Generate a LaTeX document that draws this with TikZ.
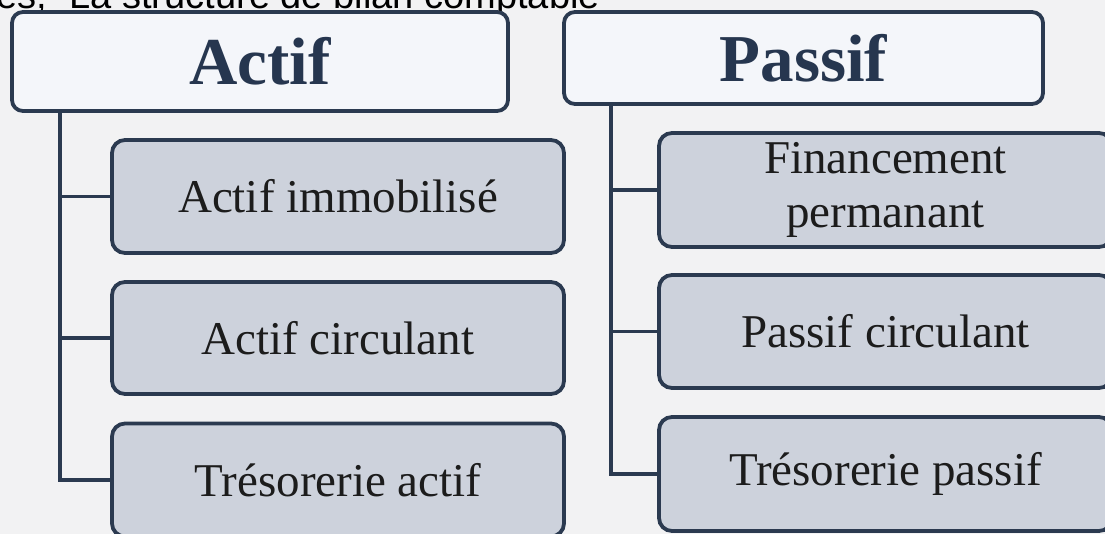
\documentclass[tikz,border=0pt]{standalone}
\usepackage{fontspec}
\setmainfont{Liberation Serif}
\newfontfamily\headsans{Liberation Sans}
\definecolor{bgcol}{HTML}{F2F2F3}
\definecolor{edgecol}{HTML}{2B3A50}
\definecolor{topfill}{HTML}{F4F6FA}
\definecolor{childfill}{HTML}{CDD2DC}
\definecolor{titlecol}{HTML}{26364F}
\definecolor{txtcol}{HTML}{1C1C1C}
\begin{document}
\begin{tikzpicture}[x=1pt,y=-1pt,
  headbox/.style={draw=edgecol, line width=3.8pt, fill=topfill, rounded corners=11pt,
    inner sep=0pt, text=titlecol, font=\bfseries\fontsize{67}{67}\selectfont},
  childbox/.style={draw=edgecol, line width=3.8pt, fill=childfill, rounded corners=13pt,
    inner sep=0pt, text=txtcol, align=center, font=\fontsize{47}{54}\selectfont},
  conn/.style={draw=edgecol, line width=3.5pt}]
\useasboundingbox (0,0) rectangle (1105,534);
\clip (0,0) rectangle (1105,534);
\fill[bgcol] (0,0) rectangle (1105,534);
\node[anchor=base east, inner sep=0pt, text=black, font=\headsans\fontsize{38}{38}\selectfont] (hdr) at (600,9) {es,\hspace{0.6em}La structure de bilan comptable};

\node[headbox, minimum width=496pt, minimum height=99pt] (actif) at (260,61.5) {Actif};
\node[headbox, minimum width=479pt, minimum height=92pt] (passif) at (803.5,58) {Passif};

\node[childbox, minimum width=452pt, minimum height=113pt] (a1) at (338,196.5) {Actif immobilisé};
\node[childbox, minimum width=452pt, minimum height=112pt] (a2) at (338,338) {Actif circulant};
\node[childbox, minimum width=452pt, minimum height=113pt] (a3) at (338,480) {Trésorerie actif};

\node[childbox, minimum width=453pt, minimum height=114pt] (p1) at (885.5,190) {Financement\\permanant};
\node[childbox, minimum width=453pt, minimum height=113pt] (p2) at (885.5,331.5) {Passif circulant};
\node[childbox, minimum width=453pt, minimum height=114pt] (p3) at (885.5,474) {Trésorerie passif};

\draw[conn] ([xshift=50pt]actif.south west) |- (a3.west);
\draw[conn] (a1.west) -- ([xshift=50pt]actif.south west |- a1.west);
\draw[conn] (a2.west) -- ([xshift=50pt]actif.south west |- a2.west);

\draw[conn] ([xshift=49pt]passif.south west) |- (p3.west);
\draw[conn] (p1.west) -- ([xshift=49pt]passif.south west |- p1.west);
\draw[conn] (p2.west) -- ([xshift=49pt]passif.south west |- p2.west);
\end{tikzpicture}
\end{document}
